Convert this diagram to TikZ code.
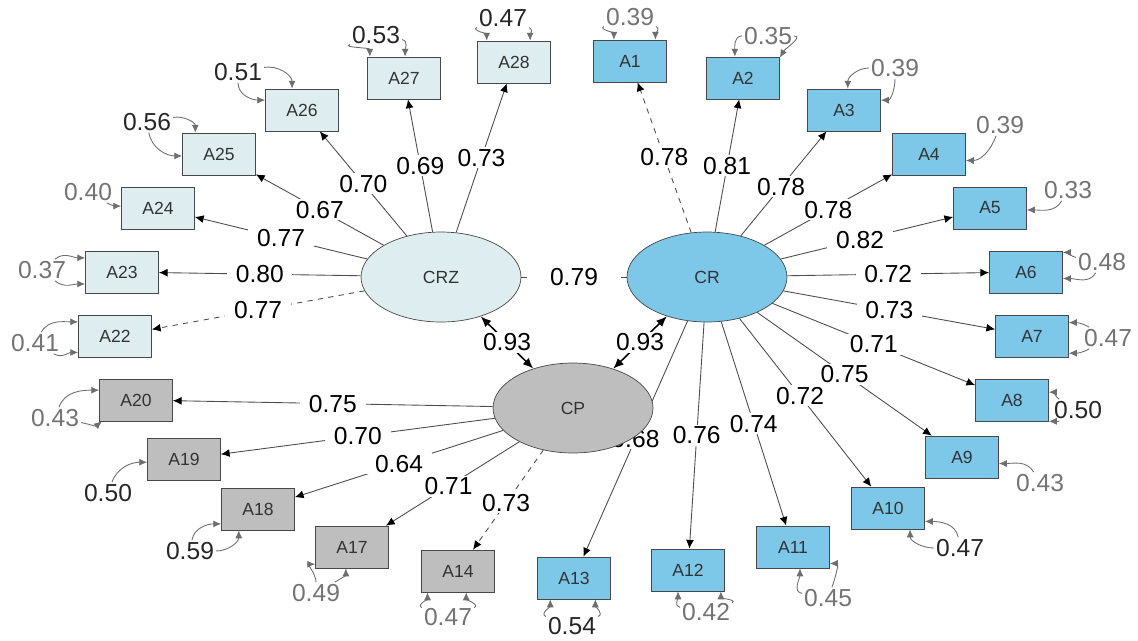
\documentclass[tikz,border=0pt]{standalone}
\usepackage{fontspec}
\setmainfont{Liberation Sans}
\usetikzlibrary{arrows.meta,shapes.geometric,backgrounds}
\definecolor{crzfill}{RGB}{222,238,240}
\definecolor{crfill}{RGB}{125,199,232}
\definecolor{cpfill}{RGB}{190,190,190}
\definecolor{edgegray}{RGB}{72,72,72}
\definecolor{errgray}{RGB}{110,110,110}

\begin{document}
\begin{tikzpicture}[x=0.02cm, y=0.02cm,
        item/.style={rectangle, draw=edgegray, minimum width=1.46cm, minimum height=0.84cm,
            inner sep=0pt, text=black!80, font=\fontsize{10}{10}\selectfont},
        crzitem/.style={item, fill=crzfill},
        critem/.style={item, fill=crfill},
        cpitem/.style={item, fill=cpfill},
        factor/.style={ellipse, draw=edgegray, minimum width=3.2cm, minimum height=1.8cm,
            inner sep=0pt, text=black!80, font=\fontsize{10}{10}\selectfont},
        load/.style={draw=black!70, line width=0.5pt, -{Latex[length=5pt,width=4.5pt,color=black]}},
        lab/.style={fill=white, inner xsep=5pt, inner ysep=1pt, font=\fontsize{14}{14}\selectfont},
        cov/.style={black, line width=0.9pt, {Latex[length=6pt,width=5pt]}-{Latex[length=6pt,width=5pt]}},
        corr/.style={draw=black!70, line width=0.5pt},
        var/.style={draw=errgray, line width=0.5pt, -{Latex[length=4.5pt,width=4pt]}},
        vlab/.style={inner sep=1pt, text=black!85, font=\fontsize{14}{14}\selectfont},
        vlabg/.style={vlab, text=black!55},
    ]
    \useasboundingbox (0,0) rectangle (1138,-640);

    % latent factors
    \node[factor, fill=crzfill] (crz) at (441,-277) {CRZ};
    \node[factor, fill=crfill] (cr) at (707,-277) {CR};
    \node[factor, fill=cpfill] (cp) at (573,-408) {CP};

    % indicators of CRZ
    \node[crzitem] (a28) at (514,-62) {A28};
    \node[crzitem] (a27) at (404,-78) {A27};
    \node[crzitem] (a26) at (302,-110) {A26};
    \node[crzitem] (a25) at (219,-154) {A25};
    \node[crzitem] (a24) at (158,-208) {A24};
    \node[crzitem] (a23) at (122,-272) {A23};
    \node[crzitem] (a22) at (115,-336) {A22};

    % indicators of CR
    \node[critem] (a1) at (630,-61) {A1};
    \node[critem] (a2) at (743,-78) {A2};
    \node[critem] (a3) at (844,-110) {A3};
    \node[critem] (a4) at (929,-154) {A4};
    \node[critem] (a5) at (990,-208) {A5};
    \node[critem] (a6) at (1026,-272) {A6};
    \node[critem] (a7) at (1032,-336) {A7};
    \node[critem] (a8) at (1012,-400) {A8};
    \node[critem] (a9) at (962,-457) {A9};
    \node[critem] (a10) at (888,-508) {A10};
    \node[critem] (a11) at (793,-547) {A11};
    \node[critem] (a12) at (688,-570) {A12};
    \node[critem] (a13) at (574,-578) {A13};

    % indicators of CP
    \node[cpitem] (a14) at (458,-571) {A14};
    \node[cpitem] (a17) at (352,-547) {A17};
    \node[cpitem] (a18) at (258,-509) {A18};
    \node[cpitem] (a19) at (184,-459) {A19};
    \node[cpitem] (a20) at (136,-400) {A20};

    \begin{scope}[on background layer]
        \draw[load] (crz) -- node[lab]{0.73} (a28);
        \draw[load] (crz) -- node[lab]{0.69} (a27);
        \draw[load] (crz) -- node[lab]{0.70} (a26);
        \draw[load] (crz) -- node[lab]{0.67} (a25);
        \draw[load] (crz) -- node[lab]{0.77} (a24);
        \draw[load] (crz) -- node[lab]{0.80} (a23);
        \draw[load, dashed] (crz) -- node[lab]{0.77} (a22);

        \draw[load, dashed] (cr) -- node[lab]{0.78} (a1);
        \draw[load] (cr) -- node[lab]{0.81} (a2);
        \draw[load] (cr) -- node[lab, pos=0.47]{0.78} (a3);
        \draw[load] (cr) -- node[lab]{0.78} (a4);
        \draw[load] (cr) -- node[lab, pos=0.46]{0.82} (a5);
        \draw[load] (cr) -- node[lab]{0.72} (a6);
        \draw[load] (cr) -- node[lab]{0.73} (a7);
        \draw[load] (cr) -- node[lab]{0.71} (a8);
        \draw[load] (cr) -- node[lab]{0.75} (a9);
        \draw[load] (cr) -- node[lab, pos=0.46]{0.72} (a10);
        \draw[load] (cr) -- node[lab]{0.74} (a11);
        \draw[load] (cr) -- node[lab]{0.76} (a12);
        \draw[load] (cr) -- node[lab]{0.68} (a13);

        \draw[load, dashed] (cp) -- node[lab, pos=0.53]{0.73} (a14);
        \draw[load] (cp) -- node[lab, pos=0.53]{0.71} (a17);
        \draw[load] (cp) -- node[lab]{0.64} (a18);
        \draw[load] (cp) -- node[lab]{0.70} (a19);
        \draw[load] (cp) -- node[lab]{0.75} (a20);

        % correlations between factors
        \draw[corr] (crz) -- node[lab, inner xsep=13pt]{0.79} (cr);
        \draw[cov] (crz) -- node[lab, inner xsep=1pt]{0.93} (cp);
        \draw[cov] (cr) -- node[lab, inner xsep=1pt]{0.93} (cp);
    \end{scope}

    % error variances
    \node[vlab] (v28) at (503,-18) {0.47};
    \draw[var] (v28) to[out=200, in=90] (a28.142);
    \draw[var] (v28) to[out=-20, in=90] (a28.53);
    \node[vlab] (v27) at (376,-35) {0.53};
    \draw[var] (v27) to[out=200, in=90] (a27.148);
    \draw[var] (v27) to[out=-10, in=90] (a27.87);
    \node[vlab] (v26) at (238,-72) {0.51};
    \draw[var] (v26) to[out=-90, in=180] (a26.165);
    \draw[var] (v26) to[out=10, in=90] (a26.115);
    \node[vlab] (v25) at (147,-122) {0.56};
    \draw[var] (v25) to[out=-80, in=180] (a25.183);
    \draw[var] (v25) to[out=10, in=90] (a25.138);
    \node[vlabg] (v24) at (88,-192) {0.40};
    \draw[var] (v24) to[out=-30, in=180] (a24.177);
    \node[vlabg] (v23) at (42,-270) {0.37};
    \draw[var] (v23) to[out=40, in=180] (a23.159);
    \draw[var] (v23) to[out=-40, in=180] (a23.198);
    \node[vlabg] (v22) at (35,-343) {0.41};
    \draw[var] (v22) to[out=60, in=180] (a22.159);
    \draw[var] (v22) to[out=-30, in=180] (a22.204);
    \node[vlabg] (v20) at (55,-418) {0.43};
    \draw[var] (v20) to[out=70, in=180] (a20.165);
    \draw[var] (v20) to[out=-10, in=220] (a20.212);
    \node[vlab] (v19) at (108,-493) {0.50};
    \draw[var] (v19) to[out=70, in=180] (a19.185);
    \node[vlab] (v18) at (190,-551) {0.59};
    \draw[var] (v18) to[out=80, in=180] (a18.202);
    \draw[var] (v18) to[out=0, in=-90] (a18.228);
    \node[vlabg] (v17) at (316,-593) {0.49};
    \draw[var] (v17) to[out=90, in=180] (a17.205);
    \draw[var] (v17) to[out=30, in=-90] (a17.254);
    \node[vlabg] (v14) at (448,-617) {0.47};
    \draw[var] (v14) to[out=160, in=-90] (a14.215);
    \draw[var] (v14) to[out=20, in=-90] (a14.291);
    \node[vlab] (v13) at (572,-626) {0.54};
    \draw[var] (v13) to[out=160, in=-90] (a13.222);
    \draw[var] (v13) to[out=20, in=-90] (a13.315);
    \node[vlabg] (v12) at (706,-612) {0.42};
    \draw[var] (v12) to[out=170, in=-90] (a12.245);
    \draw[var] (v12) to[out=20, in=-90] (a12.327);
    \node[vlabg] (v11) at (828,-598) {0.45};
    \draw[var] (v11) to[out=170, in=-90] (a11.288);
    \draw[var] (v11) to[out=70, in=0] (a11.336);
    \node[vlab] (v10) at (960,-548) {0.47};
    \draw[var] (v10) to[out=180, in=-90] (a10.316);
    \draw[var] (v10) to[out=100, in=0] (a10.340);
    \node[vlabg] (v9) at (1040,-483) {0.43};
    \draw[var] (v9) to[out=120, in=0] (a9.350);
    \node[vlab] (v8) at (1078,-410) {0.50};
    \draw[var] (v8) to[out=150, in=0] (a8.12);
    \draw[var] (v8) to[out=-150, in=0] (a8.330);
    \node[vlabg] (v7) at (1108,-338) {0.47};
    \draw[var] (v7) to[out=150, in=0] (a7.20);
    \draw[var] (v7) to[out=-150, in=0] (a7.335);
    \node[vlabg] (v6) at (1102,-262) {0.48};
    \draw[var] (v6) to[out=170, in=0] (a6.28);
    \draw[var] (v6) to[out=-120, in=0] (a6.350);
    \node[vlabg] (v5) at (1068,-190) {0.33};
    \draw[var] (v5) to[out=-120, in=0] (a5.357);
    \node[vlabg] (v4) at (1000,-125) {0.39};
    \draw[var] (v4) to[out=-110, in=0] (a4.350);
    \node[vlabg] (v3) at (895,-68) {0.39};
    \draw[var] (v3) to[out=-90, in=0] (a3.15);
    \draw[var] (v3) to[out=180, in=90] (a3.80);
    \node[vlabg] (v2) at (768,-36) {0.35};
    \draw[var] (v2) to[out=180, in=90] (a2.111);
    \draw[var] (v2) to[out=0, in=60] (a2.29);
    \node[vlabg] (v1) at (630,-17) {0.39};
    \draw[var] (v1) to[out=200, in=90] (a1.127);
    \draw[var] (v1) to[out=-20, in=90] (a1.40);
\end{tikzpicture}
\end{document}
